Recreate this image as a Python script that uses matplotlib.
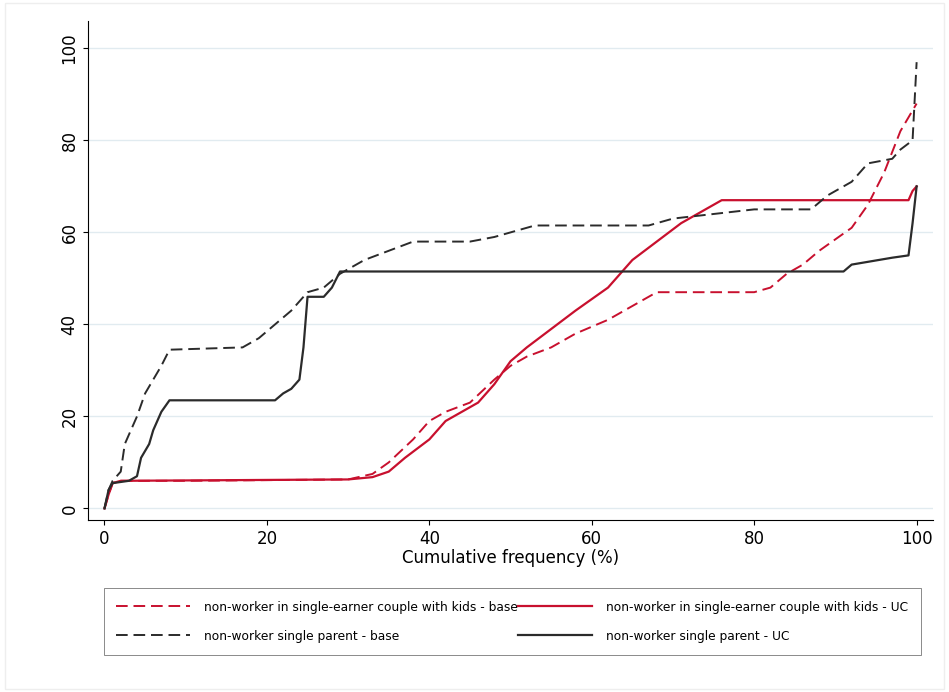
import numpy as np
import matplotlib.pyplot as plt

# cumulative frequency (%) and value
couple_base_x = [0, 0.5, 1, 2, 10, 30, 33, 35, 38, 40, 42, 45, 48, 50, 52, 55, 58, 62, 65, 68, 72, 80, 82, 84, 86, 88, 92, 94, 96, 98, 99, 100]
couple_base_y = [0, 3, 5.5, 6, 6, 6.3, 7.5, 10, 15, 19, 21, 23, 28, 31, 33, 35, 38, 41, 44, 47, 47, 47, 48, 51, 53, 56, 61, 66, 73, 82, 85, 88]
couple_uc_x = [0, 0.5, 1, 2, 30, 33, 35, 37, 40, 42, 44, 46, 48, 50, 52, 55, 58, 62, 65, 68, 71, 74, 76, 99, 99.5, 100]
couple_uc_y = [0, 3, 5.5, 6, 6.3, 6.8, 8, 11, 15, 19, 21, 23, 27, 32, 35, 39, 43, 48, 54, 58, 62, 65, 67, 67, 69, 70]
single_base_x = [0, 0.5, 1, 2, 2.5, 4, 5, 7, 8, 17, 19, 21, 23, 24, 25, 27, 29, 32, 35, 38, 45, 48, 50, 53, 67, 70, 75, 80, 87, 89, 92, 94, 97, 98, 99.5, 100]
single_base_y = [0, 4, 6, 8, 14, 20, 25, 31, 34.5, 35, 37, 40, 43, 45, 47, 48, 51, 54, 56, 58, 58, 59, 60, 61.5, 61.5, 63, 64, 65, 65, 68, 71, 75, 76, 78, 80, 97]
single_uc_x = [0, 0.5, 1, 3, 4, 4.5, 5.5, 6, 7, 8, 21, 22, 23, 24, 24.5, 25, 27, 28, 29, 91, 92, 97, 99, 99.5, 100]
single_uc_y = [0, 4, 5.5, 6, 7, 11, 14, 17, 21, 23.5, 23.5, 25, 26, 28, 35, 46, 46, 48, 51.5, 51.5, 53, 54.5, 55, 62, 70]

red = '#c8102e'
dark = '#2b2b2b'

fig = plt.figure(figsize=(9.49, 6.92), dpi=100)
ax = fig.add_axes([0.093, 0.248, 0.89, 0.722])
h1, = ax.plot(couple_base_x, couple_base_y, color=red, ls=(0, (6, 3)), lw=1.4,
              label='non-worker in single-earner couple with kids - base')
h2, = ax.plot(couple_uc_x, couple_uc_y, color=red, lw=1.6,
              label='non-worker in single-earner couple with kids - UC')
h3, = ax.plot(single_base_x, single_base_y, color=dark, ls=(0, (6, 3)), lw=1.4,
              label='non-worker single parent - base')
h4, = ax.plot(single_uc_x, single_uc_y, color=dark, lw=1.6,
              label='non-worker single parent - UC')

ax.set_xlim(-2, 102)
ax.set_ylim(-2.6, 106)
ax.set_xticks([0, 20, 40, 60, 80, 100])
ax.set_yticks([0, 20, 40, 60, 80, 100])
ax.tick_params(axis='both', labelsize=12)
for t in ax.get_yticklabels():
    t.set_rotation(90)
    t.set_va('center')
ax.grid(axis='y', color='#e1ebf0', lw=1)
ax.set_axisbelow(True)
for s in ['top', 'right']:
    ax.spines[s].set_visible(False)
ax.set_xlabel('Cumulative frequency (%)', fontsize=12, labelpad=1)

# row-major order like the original
handles = [h1, h3, h2, h4]
leg = fig.legend(handles, [h.get_label() for h in handles], ncol=2, loc='lower center',
                 bbox_to_anchor=(0.54, 0.045), fontsize=8.8, frameon=True,
                 fancybox=False, edgecolor='#555555', handlelength=6,
                 handletextpad=1.2, columnspacing=0.0, labelspacing=1.3, borderpad=1.0)
leg.get_frame().set_linewidth(0.6)
fig.patches.append(plt.Rectangle((0.005, 0.005), 0.99, 0.99, transform=fig.transFigure,
                                 fill=False, edgecolor='#eeeeee', lw=1))
fig.savefig('out.png', dpi=100)
